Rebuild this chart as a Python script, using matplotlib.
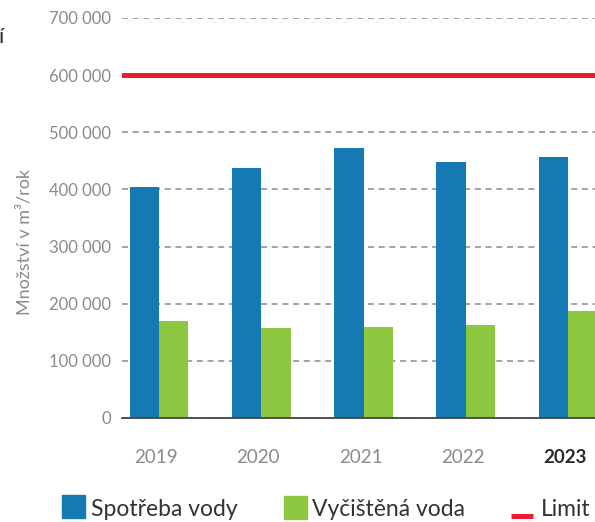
import numpy as np
import matplotlib
matplotlib.use("Agg")
import matplotlib.pyplot as plt
from matplotlib.patches import Rectangle
from matplotlib.lines import Line2D
from matplotlib.ticker import FuncFormatter

# ---- data ----
years = ["2019", "2020", "2021", "2022", "2023"]
spotreba = [404000, 438000, 472000, 448000, 457000]
vycistena = [170000, 157000, 160000, 162000, 187000]
limit = 600000
y_ticks = [0, 100000, 200000, 300000, 400000, 500000, 600000, 700000]

BLUE = "#157AB3"
GREEN = "#8DC63F"
RED = "#ED1C2E"
GRID = "#a3a3a3"
TICK = "#8a8a8a"
DARK = "#2b2b2b"

plt.rcParams['font.family'] = ['Lato', 'DejaVu Sans']
plt.rcParams['lines.scale_dashes'] = False

W, H = 595, 522
fig = plt.figure(figsize=(W / 100, H / 100), dpi=100)

def fx(px):
    return px / W

def fy(py):
    return (H - py) / H

ax_left, ax_top, ax_bottom = 122, 18, 418
ax = fig.add_axes([fx(ax_left), fy(ax_bottom), (W - ax_left) / W, (ax_bottom - ax_top) / H])

x = np.arange(len(years))
w = 0.288
ax.bar(x - w / 2, spotreba, width=w, color=BLUE, zorder=3)
ax.bar(x + w / 2, vycistena, width=w, color=GREEN, zorder=3)
ax.axhline(limit, color=RED, lw=3.6, zorder=4)

ax.set_xlim(-0.362, 4.264)
ax.set_ylim(0, 700000)

ax.set_yticks(y_ticks)
ax.yaxis.set_major_formatter(FuncFormatter(lambda v, p: f"{int(v):,}".replace(",", " ")))
ax.grid(axis='y', color=GRID, lw=1.4, linestyle=(0, (4.3, 3.4)), zorder=1)
ax.set_axisbelow(True)

ax.set_xticks(x - 0.03)
ax.set_xticklabels(years)
ax.tick_params(axis='x', length=0, pad=22, labelsize=13.5, labelcolor=TICK)
ax.tick_params(axis='y', length=0, pad=8, labelsize=12, labelcolor=TICK)
for lab in ax.get_xticklabels():
    if lab.get_text() == "2023":
        lab.set_color(DARK)
        lab.set_fontweight('bold')

for s in ['top', 'right', 'left']:
    ax.spines[s].set_visible(False)
ax.spines['bottom'].set_color('#444444')
ax.spines['bottom'].set_linewidth(1.3)
ax.spines['bottom'].set_zorder(5)

fig.text(fx(25), fy(242), "Množství v m³/rok", rotation=90, ha='center', va='center',
         fontsize=13, color=TICK)

fig.text(fx(-1), fy(37), "í", ha='left', va='center', fontsize=16, color=DARK)

# legend (manual)
sq = 23
fig.patches.append(Rectangle((fx(62), fy(518)), sq / W, sq / H, color=BLUE, transform=fig.transFigure, figure=fig))
fig.text(fx(91), fy(509), "Spotřeba vody", ha='left', va='center', fontsize=16.5, color='#333333')
fig.patches.append(Rectangle((fx(284), fy(519)), sq / W, sq / H, color=GREEN, transform=fig.transFigure, figure=fig))
fig.text(fx(312), fy(509), "Vyčištěná voda", ha='left', va='center', fontsize=16.5, color='#333333')
fig.lines.append(Line2D([fx(511), fx(533)], [fy(515.5), fy(515.5)], color=RED, lw=3.6,
                        transform=fig.transFigure, figure=fig, solid_capstyle='butt'))
fig.text(fx(541), fy(509), "Limit", ha='left', va='center', fontsize=16.5, color='#333333')

fig.savefig("out.png", dpi=100)
